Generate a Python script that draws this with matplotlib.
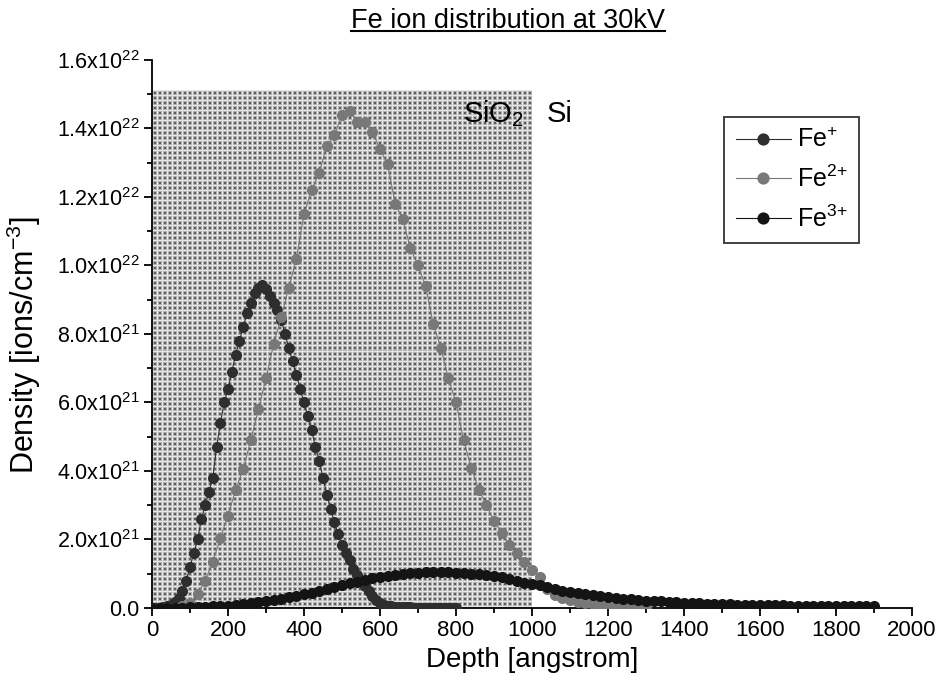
import numpy as np
import matplotlib
matplotlib.use('Agg')
import matplotlib.pyplot as plt
from matplotlib.ticker import MultipleLocator, FuncFormatter
from matplotlib.lines import Line2D

plt.rcParams['font.family'] = ['Liberation Sans', 'DejaVu Sans']
plt.rcParams['mathtext.fontset'] = 'custom'
plt.rcParams['mathtext.rm'] = 'Liberation Sans'
plt.rcParams['mathtext.it'] = 'Liberation Sans'
plt.rcParams['mathtext.bf'] = 'Liberation Sans:bold'

# depth grids [angstrom]
depth_fe1 = np.arange(0, 810, 10)
depth_fe2 = np.arange(0, 1320, 20)
depth_fe3 = np.arange(0, 1920, 20)

# densities in units of 1e21 ions/cm^3
fe1 = [0, 0, 0.01, 0.02, 0.05, 0.1, 0.18, 0.3, 0.5, 0.8,
       1.2, 1.6, 2.0, 2.6, 3.0, 3.4, 3.8, 4.7, 5.4, 6.0,
       6.4, 6.9, 7.4, 7.8, 8.2, 8.6, 8.9, 9.2, 9.35, 9.43,
       9.3, 9.1, 8.9, 8.7, 8.4, 8.0, 7.6, 7.2, 6.8, 6.4,
       6.0, 5.6, 5.2, 4.7, 4.3, 3.8, 3.3, 2.9, 2.5, 2.15,
       1.85, 1.6, 1.4, 1.15, 0.95, 0.8, 0.65, 0.5, 0.35, 0.24,
       0.15, 0.1, 0.07, 0.05, 0.04, 0.03, 0.02, 0.02, 0.02, 0.01,
       0.01, 0.01, 0.01, 0.01, 0.01, 0.01, 0.01, 0.01, 0.01, 0.01,
       0.01]
fe2 = [0, 0, 0, 0.01, 0.05, 0.15, 0.4, 0.8, 1.35, 2.05,
       2.7, 3.45, 4.05, 4.9, 5.8, 6.7, 7.7, 8.5, 9.35, 10.2,
       11.5, 12.2, 12.7, 13.5, 13.8, 14.4, 14.5, 14.2, 14.2, 13.9,
       13.4, 12.95, 11.8, 11.35, 10.5, 10.0, 9.4, 8.3, 7.6, 6.7,
       6.0, 4.9, 4.1, 3.45, 3.0, 2.55, 2.2, 1.85, 1.6, 1.35,
       1.1, 0.9, 0.55, 0.38, 0.29, 0.22, 0.17, 0.14, 0.11, 0.08,
       0.06, 0.04, 0.03, 0.02, 0.01, 0.0]
fe3 = [0.0, 0.0, 0.0, 0.01, 0.01, 0.02, 0.03, 0.04, 0.05, 0.06,
       0.07, 0.09, 0.11, 0.14, 0.17, 0.2, 0.23, 0.27, 0.31, 0.35,
       0.4, 0.45, 0.5, 0.55, 0.6, 0.66, 0.72, 0.77, 0.82, 0.87,
       0.91, 0.94, 0.97, 0.99, 1.01, 1.02, 1.04, 1.05, 1.04, 1.04,
       1.03, 1.02, 1.0, 0.98, 0.96, 0.93, 0.9, 0.86, 0.8, 0.74,
       0.7, 0.66, 0.6, 0.55, 0.51, 0.47, 0.43, 0.4, 0.37, 0.34,
       0.31, 0.29, 0.27, 0.25, 0.23, 0.21, 0.2, 0.19, 0.18, 0.17,
       0.16, 0.15, 0.14, 0.13, 0.12, 0.12, 0.11, 0.1, 0.1, 0.09,
       0.09, 0.08, 0.08, 0.08, 0.07, 0.07, 0.07, 0.07, 0.06, 0.06,
       0.06, 0.06, 0.05, 0.05, 0.05, 0.05]

series = [
    (depth_fe1, fe1, '#2e2e2e', 'Fe$^{+}$'),
    (depth_fe2, fe2, '#787878', 'Fe$^{2{+}}$'),
    (depth_fe3, fe3, '#141414', 'Fe$^{3{+}}$'),
]

oxide_depth = 1000
oxide_top = 1.51e22


def sci_fmt(v, pos):
    if v <= 0:
        return '0.0'
    e = int(np.floor(np.log10(v) + 1e-9))
    m = v / 10 ** e
    return '%.1fx10$^{%d}$' % (m, e)


fig = plt.figure(figsize=(9.4, 6.97), dpi=100, facecolor='white')
ax = fig.add_axes([0.1617, 0.1277, 0.8085, 0.7863])

for xs, ys, col, lab in series:
    ax.plot(xs, np.array(ys) * 1e21, '-o', color=col, lw=0.8, ms=8,
            mec=col, mew=0, label=lab, zorder=3)

ax.set_xlim(0, 2000)
ax.set_ylim(0, 1.6e22)
for s in ['top', 'right']:
    ax.spines[s].set_visible(False)
for s in ['left', 'bottom']:
    ax.spines[s].set_linewidth(1.3)
ax.xaxis.set_major_locator(MultipleLocator(200))
ax.xaxis.set_minor_locator(MultipleLocator(100))
ax.yaxis.set_major_locator(MultipleLocator(2e21))
ax.yaxis.set_minor_locator(MultipleLocator(1e21))
ax.yaxis.set_major_formatter(FuncFormatter(sci_fmt))
ax.tick_params(which='major', direction='out', length=6, width=1.3)
ax.tick_params(which='minor', direction='out', length=3.5, width=1.3)
ax.tick_params(axis='x', labelsize=16, pad=3)
ax.tick_params(axis='y', labelsize=15.5, pad=3)
ax.set_xlabel('Depth [angstrom]', fontsize=20, labelpad=4)
ax.set_ylabel('Density [ions/cm$^{-3}$]', fontsize=22)
ax.yaxis.set_label_coords(-0.143, 0.48)

ax.text(oxide_depth - 20, 1.442e22, 'SiO$_{2}$', fontsize=21, ha='right', va='center')
ax.text(oxide_depth + 38, 1.442e22, 'Si', fontsize=21, ha='left', va='center')

leg = ax.legend(loc='upper left', bbox_to_anchor=(0.753, 0.896), fontsize=18,
                frameon=True, fancybox=False, edgecolor='black', handlelength=2.2,
                labelspacing=0.53, borderpad=0.45, borderaxespad=0,
                handletextpad=0.25, markerscale=1.1)
leg.get_frame().set_linewidth(1.3)

title = fig.text(508 / 940, 1 - 28 / 697, 'Fe ion distribution at 30kV',
                 fontsize=19.5, ha='center', va='baseline')

fig.canvas.draw()

# dotted texture of the oxide layer, one texel per pixel
p0 = ax.transData.transform((0, 0))
p1 = ax.transData.transform((oxide_depth, oxide_top))
w = int(round(p1[0] - p0[0]))
h = int(round(p1[1] - p0[1]))
yy, xx = np.mgrid[0:h, 0:w]
tex = np.full((h, w), 0.7)
tex[(yy % 5 == 0) | (xx % 5 == 0)] = 0.9
tex[((yy % 5 == 2) | (yy % 5 == 3)) & ((xx % 5 == 2) | (xx % 5 == 3))] = 0.36
ax.imshow(tex, cmap='gray', vmin=0, vmax=1, extent=(0, oxide_depth, 0, oxide_top),
          aspect='auto', interpolation='nearest', zorder=0)
ax.set_xlim(0, 2000)
ax.set_ylim(0, 1.6e22)

# underline the title
bb = title.get_window_extent()
W, H = fig.bbox.width, fig.bbox.height
fig.add_artist(Line2D([bb.x0 / W, bb.x1 / W], [1 - 31 / 697] * 2,
                      transform=fig.transFigure, color='black', lw=1.5))

fig.savefig('out.png', dpi=100, facecolor='white')
